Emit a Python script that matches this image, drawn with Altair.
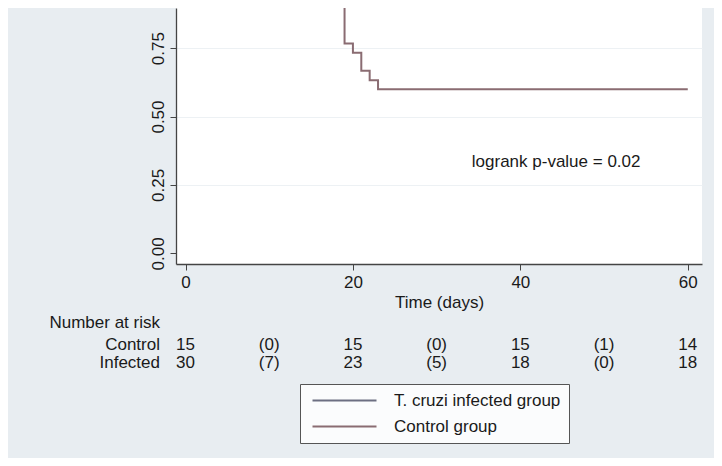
import altair as alt
import pandas as pd

# ---- data ----
curve_time = [0, 19, 20, 21, 22, 23, 60]
curve_surv = [1.0, 0.767, 0.733, 0.667, 0.633, 0.600, 0.600]
curve_group = "Control group"

groups = ["T. cruzi infected group", "Control group"]
group_colors = ["#6c6f82", "#8a6c72"]

risk_times = [0, 10, 20, 30, 40, 50, 60]
risk_control = ["15", "(0)", "15", "(0)", "15", "(1)", "14"]
risk_infected = ["30", "(7)", "23", "(5)", "18", "(0)", "18"]

x_ticks = [0, 20, 40, 60]
y_ticks = [0.0, 0.25, 0.5, 0.75, 1.0]

annotation = "logrank p-value = 0.02"

FONT = "Liberation Sans"
FS = 17
TXT = "#1a1a1a"
BG = "#e8edf1"

curve_df = pd.DataFrame({"time": curve_time, "surv": curve_surv,
                         "group": [curve_group] * len(curve_time)})
risk_df = pd.DataFrame({"time": risk_times, "control": risk_control,
                        "infected": risk_infected})

x_scale = alt.Scale(domain=[-1.135, 61.7], nice=False, zero=False)
y_scale = alt.Scale(domain=[-0.039, 0.8966], nice=False, zero=False)

x_axis = alt.Axis(values=x_ticks, title="Time (days)", grid=False,
                  tickSize=6, labelPadding=4, titlePadding=4,
                  domainColor="#444", tickColor="#444", domainWidth=1.3,
                  labelFontSize=FS, titleFontSize=FS, labelFont=FONT,
                  titleFont=FONT, titleFontWeight="normal", labelColor=TXT,
                  titleColor=TXT, labelFlush=False)
y_axis = alt.Axis(values=y_ticks, format=".2f", title=None, grid=True,
                  gridColor="#edf1f4", gridWidth=1.2,
                  gridOpacity={"condition": {"test": "datum.value === 0", "value": 0}, "value": 1},
                  tickSize=6, labelPadding=3, labelAngle=270,
                  labelAlign="center", labelBaseline="bottom",
                  domainColor="#444", tickColor="#444", domainWidth=1.3,
                  labelFontSize=FS, labelFont=FONT, labelColor=TXT,
                  labelFlush=False)

curve = alt.Chart(curve_df).mark_line(
    interpolate="step-after", clip=True, strokeWidth=2
).encode(
    x=alt.X("time:Q", scale=x_scale, axis=x_axis),
    y=alt.Y("surv:Q", scale=y_scale, axis=y_axis),
    color=alt.Color(
        "group:N",
        scale=alt.Scale(domain=groups, range=group_colors),
        legend=alt.Legend(
            orient="none", legendX=124, legendY=376, direction="vertical",
            title=None, strokeColor="#555", fillColor="#fbfcfd",
            padding=8, rowPadding=8, symbolType="M-1,0H15", symbolSize=64,
            symbolStrokeWidth=1.8, labelOffset=69, labelFontSize=FS,
            labelFont=FONT, labelColor=TXT, labelLimit=400,
        ),
    ),
)

text_base = dict(font=FONT, fontSize=FS, color=TXT, baseline="middle")

note = alt.Chart(pd.DataFrame({"t": [annotation]})).mark_text(
    align="left", **text_base
).encode(x=alt.datum(34.2), y=alt.datum(0.334), text="t:N")

ctrl_row = alt.Chart(risk_df).mark_text(align="center", **text_base).encode(
    x=alt.X("time:Q", scale=x_scale), y=alt.value(337), text="control:N")
inf_row = alt.Chart(risk_df).mark_text(align="center", **text_base).encode(
    x=alt.X("time:Q", scale=x_scale), y=alt.value(355), text="infected:N")

row_labels = alt.Chart(pd.DataFrame({
    "lab": ["Number at risk", "Control", "Infected"],
    "pos": [315, 337, 355],
})).mark_text(align="right", **text_base).encode(
    x=alt.value(-16), y=alt.Y("pos:Q", scale=None), text="lab:N")

chart = alt.layer(curve, note, ctrl_row, inf_row, row_labels).properties(
    width=526, height=256,
    autosize=alt.AutoSizeParams(type="none"),
    padding={"left": 168, "top": 0, "right": 12, "bottom": 194},
    background=BG,
).configure_view(fill="white", stroke=None)

chart.save("out.html", embed_options={"renderer": "svg", "actions": False})
